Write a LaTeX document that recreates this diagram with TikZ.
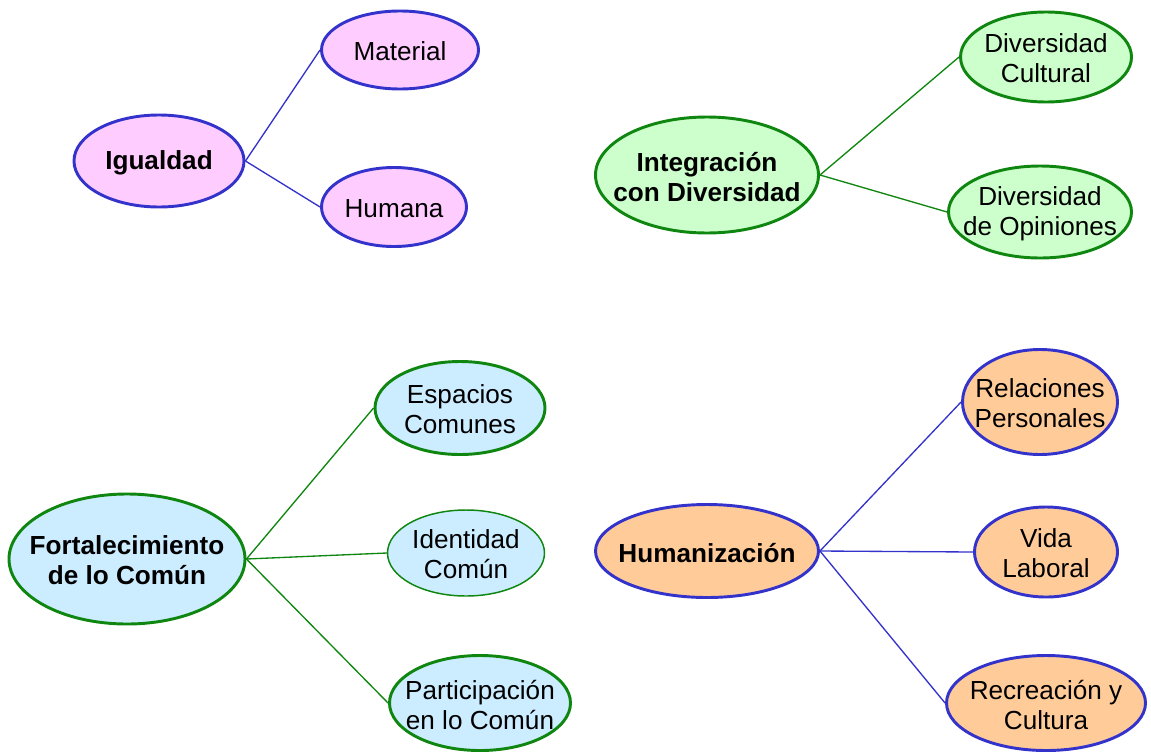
\documentclass[tikz,border=0pt]{standalone}
\usepackage{fontspec}
\setmainfont{Liberation Sans}
\usetikzlibrary{shapes.geometric}
\definecolor{bordblue}{HTML}{3333CC}
\definecolor{bordgreen}{HTML}{0F860F}
\definecolor{fpink}{HTML}{FFCCFF}
\definecolor{fgreen}{HTML}{CCFFCC}
\definecolor{fblue}{HTML}{CCECFF}
\definecolor{fpeach}{HTML}{FFCC99}
\tikzset{
  oval/.style n args={3}{ellipse, inner sep=0pt, minimum width=#1*0.75pt, minimum height=#2*0.75pt,
     label={[align=center, yshift=-1.2pt, font=\fontsize{19.6}{22.5}\selectfont]center:#3}},
  bubble/.style={line width=2.2pt},
  bblue/.style={bubble, draw=bordblue},
  bgreen/.style={bubble, draw=bordgreen},
  pinkb/.style={bblue, fill=fpink},
  greenb/.style={bgreen, fill=fgreen},
  blueb/.style={bgreen, fill=fblue},
  peachb/.style={bblue, fill=fpeach},
  linkb/.style={draw=bordblue, line width=1pt},
  linkg/.style={draw=bordgreen, line width=1pt},
}
\begin{document}
\begin{tikzpicture}[x=0.75pt,y=-0.75pt]
\useasboundingbox (0,0) rectangle (1151,753);
% Igualdad
\node[pinkb, oval={170}{92}{\bfseries Igualdad}] (ig) at (159,161) {};
\node[pinkb, oval={157}{78}{Material}] (mat) at (400,50) {};
\node[pinkb, oval={145}{79}{Humana}] (hum) at (394,207) {};
\draw[linkb] (ig.east) -- (mat.west);
\draw[linkb] (ig.east) -- (hum.west);
% Integracion
\node[greenb, oval={223}{116}{\bfseries Integración\\\bfseries con Diversidad}] (int) at (707,175) {};
\node[greenb, oval={171}{90}{Diversidad\\Cultural}] (dc) at (1046,57) {};
\node[greenb, oval={183}{92}{Diversidad\\de Opiniones}] (dop) at (1040,212) {};
\draw[linkg] (int.east) -- (dc.west);
\draw[linkg] (int.east) -- (dop.west);
% Fortalecimiento
\node[blueb, oval={236}{130}{\bfseries Fortalecimiento\\\bfseries de lo Común}] (fc) at (127,559) {};
\node[blueb, oval={170}{93}{Espacios\\Comunes}] (ec) at (460,408) {};
\node[blueb, line width=1.1pt, oval={157}{86}{Identidad\\Común}] (idc) at (466,553) {};
\node[blueb, oval={181}{95}{Participación\\en lo Común}] (pc) at (480,703) {};
\draw[linkg] (fc.east) -- (ec.west);
\draw[linkg] (fc.east) -- (idc.west);
\draw[linkg] (fc.east) -- (pc.west);
% Humanizacion
\node[peachb, oval={223}{93}{\bfseries Humanización}] (hz) at (707,551) {};
\node[peachb, oval={155}{105}{Relaciones\\Personales}] (rp) at (1040,402) {};
\node[peachb, oval={143}{90}{Vida\\Laboral}] (vl) at (1046,552) {};
\node[peachb, oval={199}{95}{Recreación y\\Cultura}] (rc) at (1046,703) {};
\draw[linkb] (hz.east) -- (rp.west);
\draw[linkb] (hz.east) -- (vl.west);
\draw[linkb] (hz.east) -- (rc.west);
\end{tikzpicture}
\end{document}
